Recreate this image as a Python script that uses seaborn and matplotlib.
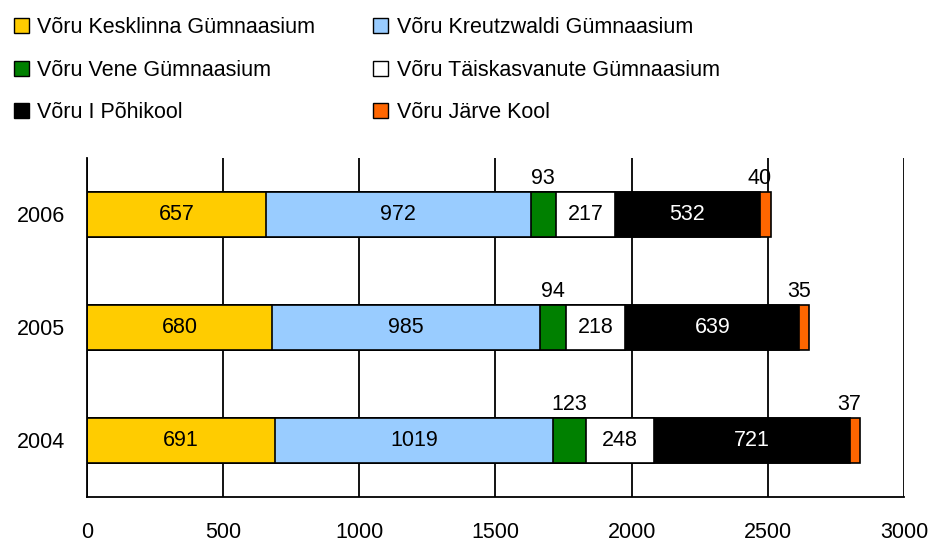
import numpy as np
import pandas as pd
import matplotlib
matplotlib.use('Agg')
import matplotlib.pyplot as plt
from matplotlib.patches import Patch
import seaborn as sns

# Données
years = ['2006', '2005', '2004']
schools = ['Võru Kesklinna Gümnaasium', 'Võru Kreutzwaldi Gümnaasium',
           'Võru Vene Gümnaasium', 'Võru Täiskasvanute Gümnaasium',
           'Võru I Põhikool', 'Võru Järve Kool']
kesklinna = [657, 680, 691]
kreutzwaldi = [972, 985, 1019]
vene = [93, 94, 123]
taiskasvanute = [217, 218, 248]
pohikool = [532, 639, 721]
jarve = [40, 35, 37]
colors = ['#FFCC00', '#99CCFF', '#008000', '#FFFFFF', '#000000', '#FF6600']
x_ticks = [0, 500, 1000, 1500, 2000, 2500, 3000]

values = np.array([kesklinna, kreutzwaldi, vene, taiskasvanute, pohikool, jarve]).T
cum = values.cumsum(axis=1)

sns.set_style('white')
plt.rcParams['font.family'] = ['Liberation Sans', 'DejaVu Sans']
plt.rcParams['text.color'] = 'black'
FS = 15.5

fig = plt.figure(figsize=(9.29, 5.44), dpi=100)
ax = fig.add_axes([0.0937, 0.0864, 0.8793, 0.6232])

# Barres empilées : on dessine les cumuls du plus grand au plus petit
for i in reversed(range(values.shape[1])):
    df = pd.DataFrame({'year': years, 'total': cum[:, i]})
    sns.barplot(data=df, x='total', y='year', order=years, orient='h',
                color=colors[i], saturation=1, edgecolor='black',
                linewidth=1.2, width=0.39, ax=ax)

# Étiquettes des valeurs
for r in range(len(years)):
    for i in range(values.shape[1]):
        v = values[r, i]
        center = cum[r, i] - v / 2
        if i in (2, 5):
            ax.text(center - (20 if i == 5 else 0), r - 0.27, str(v),
                    ha='center', va='baseline', fontsize=FS, color='black')
        else:
            ax.text(center, r, str(v), ha='center', va='center', fontsize=FS,
                    color='white' if i == 4 else 'black')

ax.set_xlim(0, 3000)
ax.set_ylim(2.5, -0.5)
ax.set_xticks(x_ticks)
ax.set_xticklabels([str(t) for t in x_ticks], fontsize=FS)
ax.set_yticks(range(len(years)))
ax.set_yticklabels(years, fontsize=FS)
ax.set_yticks([-0.5, 0.5, 1.5, 2.5], minor=True)
ax.tick_params(axis='y', which='major', length=0, pad=16, labelcolor='black')
ax.tick_params(axis='y', which='minor', length=8, width=1.3, direction='out', color='black')
ax.tick_params(axis='x', length=8, width=1.3, direction='out', color='black',
               pad=10, labelcolor='black')
ax.set_xlabel('')
ax.set_ylabel('')

ax.xaxis.grid(True, color='black', linewidth=1.3)
ax.set_axisbelow(True)
for s in ['top', 'right']:
    ax.spines[s].set_visible(False)
for s in ['left', 'bottom']:
    ax.spines[s].set_color('black')
    ax.spines[s].set_linewidth(1.3)

# Légende (remplissage ligne par ligne)
handles = [Patch(facecolor=c, edgecolor='black', linewidth=1) for c in colors]
order = [0, 2, 4, 1, 3, 5]
fig.legend([handles[k] for k in order], [schools[k] for k in order],
           ncol=2, loc='upper left', bbox_to_anchor=(-0.004, 1.0),
           frameon=False, fontsize=FS, handlelength=0.7, handleheight=0.7,
           handletextpad=0.4, columnspacing=2.7, labelspacing=1.0,
           borderaxespad=0.15, borderpad=0.65)

plt.savefig('out.png', dpi=100)
